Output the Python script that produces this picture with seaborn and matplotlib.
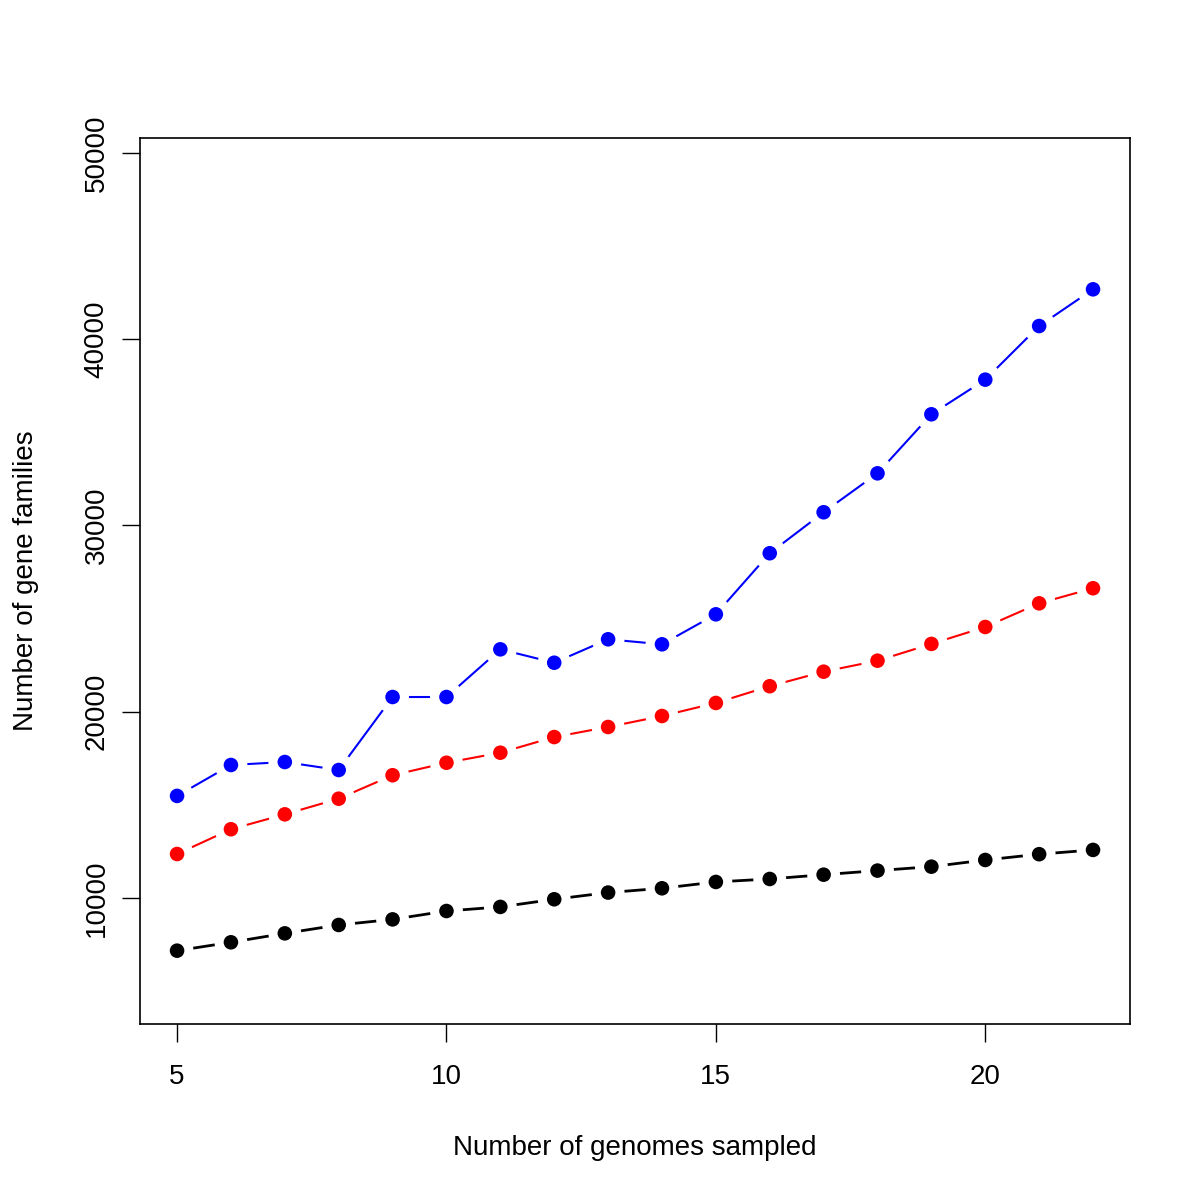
import numpy as np
import pandas as pd
import matplotlib
matplotlib.use('Agg')
import matplotlib.pyplot as plt
import seaborn as sns

# ============================================================
# DATA
# ============================================================

genomes = [5, 6, 7, 8, 9, 10, 11, 12, 13, 14, 15, 16, 17, 18, 19, 20, 21, 22]

blue_families = [15480, 17140, 17300, 16870, 20790, 20790, 23350, 22630, 23890,
                 23620, 25230, 28510, 30710, 32800, 35970, 37830, 40710, 42680]

red_families = [12360, 13690, 14490, 15330, 16590, 17260, 17800, 18640, 19180,
                19770, 20470, 21370, 22150, 22740, 23640, 24550, 25820, 26630]

black_families = [7170, 7620, 8100, 8550, 8850, 9300, 9520, 9930, 10290,
                  10520, 10860, 11020, 11250, 11470, 11680, 12040, 12350, 12580]

x_ticks = [5, 10, 15, 20]
y_ticks = [10000, 20000, 30000, 40000, 50000]

# ============================================================
# STYLE
# ============================================================

sns.set_style('white')
plt.rcParams['font.family'] = ['Liberation Sans', 'DejaVu Sans']
plt.rcParams['text.color'] = 'black'
plt.rcParams['axes.labelcolor'] = 'black'

fig = plt.figure(figsize=(12, 12), dpi=100)
ax = fig.add_axes([0.1167, 0.1467, 0.825, 0.7383])

series = [
    ('black', black_families, 2.0),
    ('red',   red_families,   1.5),
    ('blue',  blue_families,  1.5),
]

# R type="b": line with gaps around each point
for color, values, lw in series:
    df = pd.DataFrame({'genomes': genomes, 'families': values})
    sns.lineplot(data=df, x='genomes', y='families', color=color,
                 linewidth=lw, ax=ax, zorder=2)
    ax.scatter(df['genomes'], df['families'], s=560, color='white',
               edgecolor='none', zorder=3)
    sns.scatterplot(data=df, x='genomes', y='families', color=color,
                    s=110, edgecolor='none', ax=ax, zorder=4)

ax.set_xlim(4.313, 22.687)
ax.set_ylim(3235, 50805)
ax.set_xticks(x_ticks)
ax.set_yticks(y_ticks)
ax.set_yticklabels([str(v) for v in y_ticks], rotation=90, va='center')

ax.tick_params(axis='both', direction='out', length=13, width=1.0,
               labelsize=20, color='black', labelcolor='black',
               bottom=True, left=True)
ax.tick_params(axis='x', pad=16)
ax.tick_params(axis='y', pad=9)

for sp in ax.spines.values():
    sp.set_visible(True)
    sp.set_color('black')
    sp.set_linewidth(1.2)

ax.set_xlabel('Number of genomes sampled', fontsize=20, labelpad=32)
ax.set_ylabel('Number of gene families', fontsize=20, labelpad=32)

plt.savefig('out.png', dpi=100, facecolor='white')
